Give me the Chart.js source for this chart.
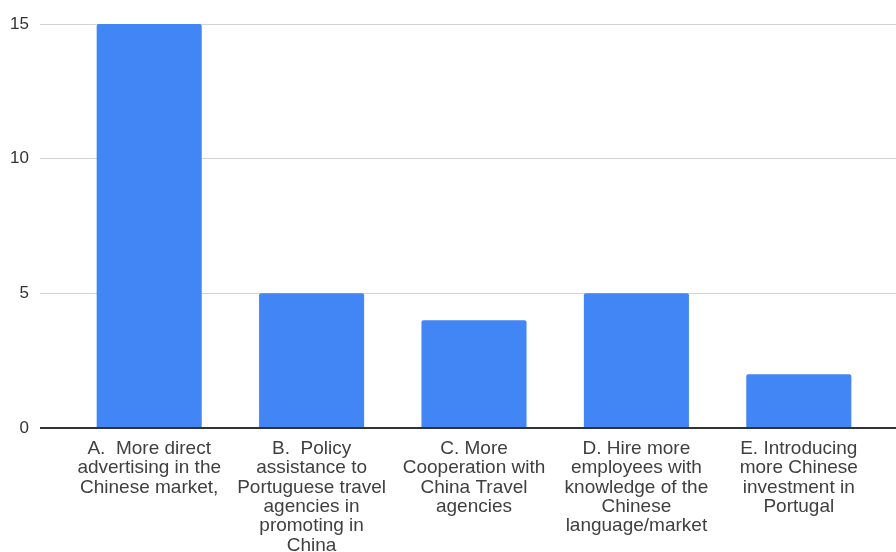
<!DOCTYPE html>
<html>
<head>
<meta charset="utf-8">
<script src="https://cdn.jsdelivr.net/npm/chart.js@4"></script>
<style>
  html, body { margin: 0; padding: 0; background: #fff; }
  #chart { display: block; }
</style>
</head>
<body>
<canvas id="chart" width="896" height="552"></canvas>
<script>
// chart data
const categories = [
    ["A.  More direct", "advertising in the", "Chinese market,"],
    ["B.  Policy", "assistance to", "Portuguese travel", "agencies in", "promoting in", "China"],
    ["C. More", "Cooperation with", "China Travel", "agencies"],
    ["D. Hire more", "employees with", "knowledge of the", "Chinese", "language/market"],
    ["E. Introducing", "more Chinese", "investment in", "Portugal"]
];
const counts = [15, 5, 4, 5, 2];
const yTicks = [0, 5, 10, 15];

const fontFamily = "'Liberation Sans', Arial, sans-serif";
const gridColor = (ctx) => (ctx.tick && ctx.tick.value === 0 ? "#333333" : "#d3d3d3");
const gridWidth = (ctx) => (ctx.tick && ctx.tick.value === 0 ? 2 : 1);

const ctx = document.getElementById("chart").getContext("2d");
new Chart(ctx, {
    type: "bar",
    data: {
        labels: categories,
        datasets: [{
            label: "Count",
            data: counts,
            backgroundColor: "#4285f4",
            borderRadius: { topLeft: 2, topRight: 2 },
            borderSkipped: "bottom",
            categoryPercentage: 1,
            barPercentage: 0.647
        }]
    },
    options: {
        responsive: false,
        animation: false,
        layout: { padding: { top: 24, left: 0, right: 0, bottom: 0 } },
        plugins: {
            legend: { display: false },
            tooltip: { enabled: false }
        },
        scales: {
            x: {
                grid: { display: false },
                border: { display: false },
                ticks: {
                    color: "#404040",
                    font: { family: fontFamily, size: 19, lineHeight: 1.02 },
                    padding: 3,
                    maxRotation: 0,
                    autoSkip: false
                },
                afterFit: (scale) => { scale.height = 124; }
            },
            y: {
                min: 0,
                max: 15,
                afterBuildTicks: (scale) => { scale.ticks = yTicks.map(v => ({ value: v })); },
                border: { display: false },
                grid: { color: gridColor, lineWidth: gridWidth, tickLength: 28, tickColor: gridColor, tickWidth: gridWidth },
                ticks: {
                    color: "#333333",
                    font: { family: fontFamily, size: 17 },
                    padding: 11
                },
                afterFit: (scale) => { scale.width = 68; }
            },
            // hidden right axis only used to run the gridlines out to the edge
            yRight: {
                position: "right",
                min: 0,
                max: 15,
                afterBuildTicks: (scale) => { scale.ticks = yTicks.map(v => ({ value: v })); },
                border: { display: false },
                grid: { display: true, drawOnChartArea: false, lineWidth: gridWidth, tickLength: 16, tickColor: gridColor, tickWidth: gridWidth },
                ticks: { display: false },
                afterFit: (scale) => { scale.width = 16; }
            }
        }
    }
});
</script>
</body>
</html>
